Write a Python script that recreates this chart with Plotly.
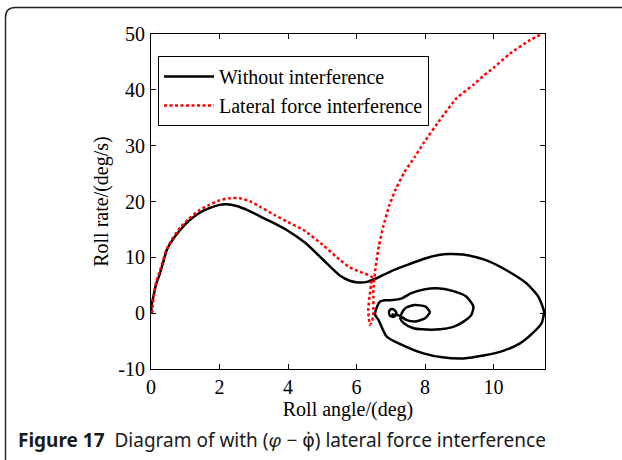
import plotly.graph_objects as go

# Phase trajectory without interference (roll angle in deg, roll rate in deg/s)
angle_plain = [0.0, 0.02, 0.07, 0.15, 0.26, 0.35, 0.46, 0.65, 0.85, 1.1, 1.4, 1.7, 2.0, 2.2, 2.5,
               2.8, 3.1, 3.5, 3.96, 4.5, 5.0, 5.5, 5.8, 6.05, 6.3, 6.6, 7.0, 7.46, 8.0, 8.4,
               8.7, 9.1, 9.5, 9.9, 10.4, 10.97, 11.3, 11.47, 11.4, 11.1, 10.77, 10.3, 9.7, 9.12, 8.5,
               7.95, 7.4, 6.88, 6.64, 6.54, 6.6, 6.68, 6.85, 7.07, 7.3, 7.6, 8.0, 8.34, 8.8,
               9.2, 9.41, 9.35, 9.1, 8.8, 8.44, 7.9, 7.66, 7.4, 7.28, 7.32, 7.45, 7.7, 8.0,
               8.14, 8.0, 7.7, 7.45, 7.3, 7.17, 7.07, 6.97, 6.95, 7.0, 7.1, 7.17, 7.12, 7.02]
rate_plain = [0.0, 1.5, 3.0, 5.2, 7.1, 9.0, 11.3, 13.3, 14.9, 16.5, 17.9, 18.8, 19.4, 19.5, 19.2,
              18.5, 17.6, 16.4, 14.9, 12.6, 9.7, 6.8, 5.8, 5.5, 5.6, 6.3, 7.5, 8.6, 9.8, 10.4,
              10.6, 10.5, 10.0, 9.2, 7.6, 5.3, 3.0, 0.3, -1.8, -3.8, -5.4, -6.7, -7.6, -8.1, -7.9,
              -7.2, -5.9, -4.2, -1.2, -0.3, 1.2, 2.06, 2.3, 2.36, 2.6, 3.6, 4.3, 4.45, 4.0,
              3.0, 1.2, -0.3, -1.6, -2.5, -2.9, -2.9, -2.7, -1.9, -1.0, 0.0, 1.0, 1.46, 1.2,
              0.2, -0.9, -1.5, -1.2, -0.6, -0.3, -0.7, -0.4, 0.3, 0.7, 0.6, 0.0, -0.3, -0.2]

# Phase trajectory with lateral force interference
angle_lateral = [0.03, 0.05, 0.08, 0.15, 0.26, 0.46, 0.65, 0.85, 1.1, 1.4, 1.7, 2.0, 2.3, 2.6,
                 2.9, 3.2, 3.6, 4.0, 4.45, 5.0, 5.52, 5.8, 6.1, 6.44, 6.42, 6.39, 6.34, 6.36,
                 6.39, 6.45, 6.49, 6.49, 6.55, 6.65, 6.78, 6.95, 7.15, 7.4, 7.7, 7.95, 8.43, 8.92,
                 9.41, 9.7, 9.99, 10.48, 11.06, 11.4]
rate_lateral = [0.0, 1.5, 3.0, 5.5, 7.6, 11.5, 13.6, 15.3, 16.9, 18.4, 19.4, 20.2, 20.6, 20.6,
                20.0, 19.0, 17.6, 16.3, 14.9, 12.3, 9.5, 8.2, 7.4, 6.5, 5.0, 3.55, 0.57, -1.0,
                -2.1, -1.5, -0.33, 4.15, 8.0, 12.0, 15.5, 19.2, 22.3, 25.3, 28.0, 30.4, 34.6, 38.5,
                40.9, 42.5, 43.9, 46.5, 48.9, 50.0]

x_ticks = [0, 2, 4, 6, 8, 10]
y_ticks = [-10, 0, 10, 20, 30, 40, 50]
y_tick_text = ["-10", "0", "10", "20", "30", "40", "50"]

W, H = 622, 460
L, R, T, B = 151, 77, 34, 91
PW, PH = W - L - R, H - T - B


def px(xp):
    return (xp - L) / PW


def py(yp):
    return (H - B - yp) / PH


serif = "Liberation Serif, Times New Roman, serif"
fs = 20

fig = go.Figure()
fig.add_trace(go.Scatter(x=angle_plain, y=rate_plain, mode="lines", name="Without interference",
                         line=dict(color="black", width=2.5, shape="spline", smoothing=0.6)))
fig.add_trace(go.Scatter(x=angle_lateral, y=rate_lateral, mode="lines", name="Lateral force interference",
                         line=dict(color="#ff0000", width=2.5, dash="3px,2.5px", shape="spline", smoothing=0.5)))

axis_common = dict(showline=True, linecolor="black", linewidth=1.2, mirror="ticks",
                   ticks="inside", ticklen=5, tickcolor="black", tickwidth=1,
                   showgrid=False, zeroline=False,
                   tickfont=dict(family=serif, size=fs, color="black"))

fig.update_xaxes(range=[0, 11.5], tickvals=x_ticks, ticklabelstandoff=0,
                 title=dict(text="Roll angle/(deg)", font=dict(family=serif, size=fs, color="black"), standoff=0),
                 **axis_common)
fig.update_yaxes(range=[-10, 50], tickvals=y_ticks, ticktext=y_tick_text, ticklabelstandoff=1,
                 title=dict(text="Roll rate/(deg/s)", font=dict(family=serif, size=fs, color="black"), standoff=4),
                 **axis_common)

# rounded page frame around the figure
fx0, fy0, r = 5.5, 7.5, 10
frame = (f"M {px(fx0)},{py(H + 5)} L {px(fx0)},{py(fy0 + r)} "
         f"Q {px(fx0)},{py(fy0)} {px(fx0 + r)},{py(fy0)} L {px(W + 5)},{py(fy0)}")
fig.add_shape(type="path", xref="paper", yref="paper", path=frame,
              line=dict(color="#222222", width=1.4), layer="above")

fig.add_annotation(xref="paper", yref="paper", x=px(16), y=py(440), xanchor="left", yanchor="middle",
                   showarrow=False,
                   text=("<b>Figure 17</b>  Diagram of with (<i>φ</i> − "
                         "<span style='font-family:DejaVu Sans'>φ̇</span>) lateral force interference"),
                   font=dict(family="Noto Sans, sans-serif", size=19, color="#1a1a1a"))

fig.update_layout(width=W, height=H, margin=dict(l=L, r=R, t=T, b=B),
                  paper_bgcolor="white", plot_bgcolor="white",
                  legend=dict(x=px(158), y=py(56), xanchor="left", yanchor="top",
                              bordercolor="black", borderwidth=1, bgcolor="white",
                              font=dict(family=serif, size=fs, color="black"),
                              tracegroupgap=0, itemwidth=50))

fig.write_html("out.html")
